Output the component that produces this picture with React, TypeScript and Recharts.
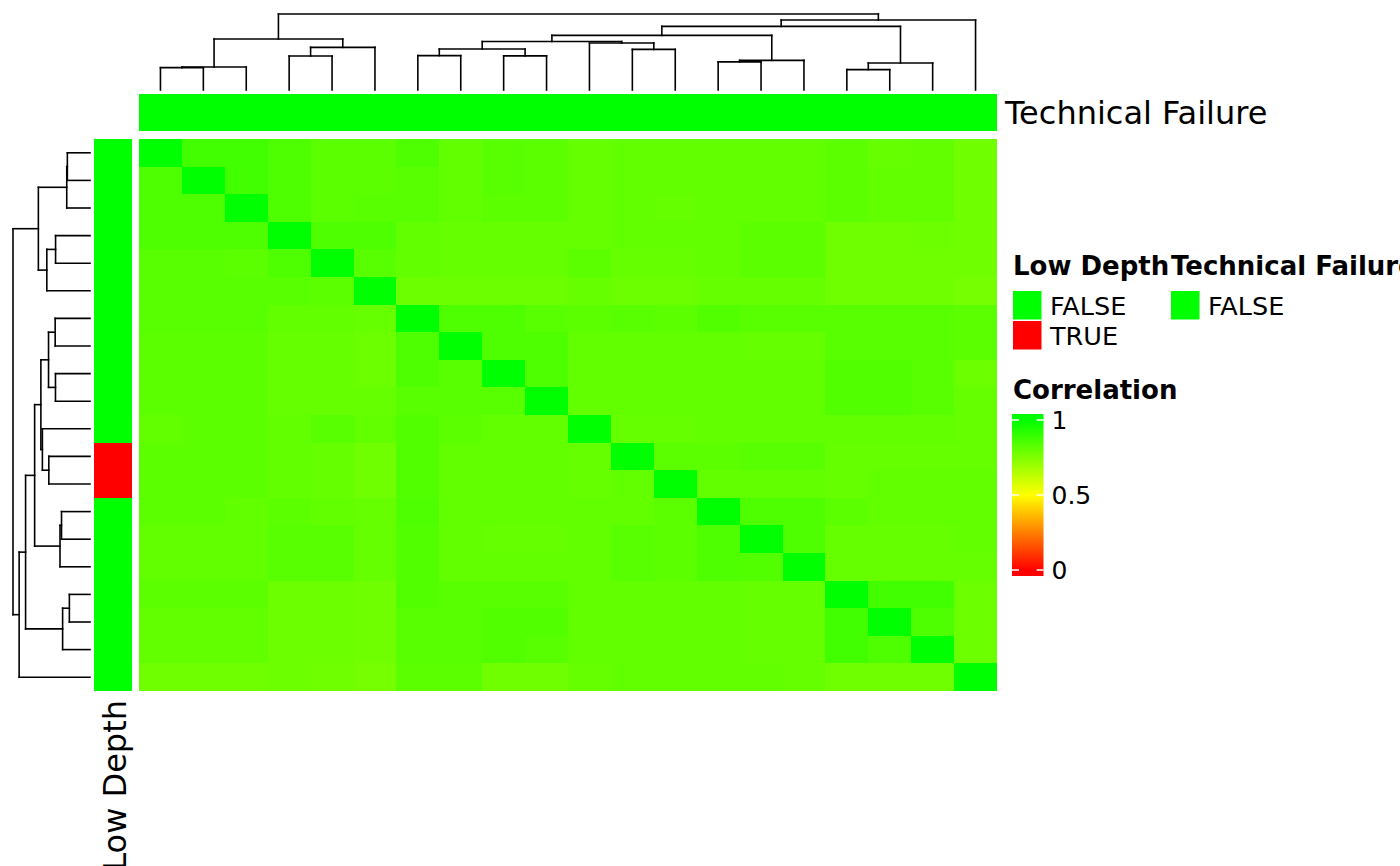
import React from "react";
import { ComposedChart, XAxis, YAxis, ReferenceArea, ReferenceLine } from "recharts";

const FONT = '"DejaVu Sans", "DejaVu Sans Condensed", sans-serif';

// correlation matrix rows (display order, rows == columns)
const corrRow00 = [1, 0.87, 0.87, 0.85, 0.82, 0.82, 0.85, 0.81, 0.83, 0.82, 0.8, 0.81, 0.81, 0.81, 0.81, 0.81, 0.82, 0.8, 0.81, 0.78];
const corrRow01 = [0.85, 1, 0.87, 0.85, 0.82, 0.82, 0.83, 0.81, 0.83, 0.82, 0.8, 0.81, 0.81, 0.81, 0.81, 0.81, 0.82, 0.81, 0.81, 0.78];
const corrRow02 = [0.85, 0.85, 1, 0.85, 0.82, 0.83, 0.83, 0.81, 0.82, 0.82, 0.8, 0.81, 0.8, 0.81, 0.81, 0.81, 0.82, 0.81, 0.81, 0.78];
const corrRow03 = [0.85, 0.85, 0.85, 1, 0.85, 0.85, 0.81, 0.8, 0.8, 0.8, 0.8, 0.81, 0.81, 0.81, 0.82, 0.82, 0.78, 0.78, 0.79, 0.78];
const corrRow04 = [0.83, 0.83, 0.82, 0.85, 1, 0.83, 0.81, 0.8, 0.8, 0.8, 0.82, 0.8, 0.8, 0.81, 0.82, 0.82, 0.78, 0.78, 0.78, 0.78];
const corrRow05 = [0.83, 0.83, 0.83, 0.83, 0.82, 1, 0.79, 0.79, 0.79, 0.79, 0.8, 0.79, 0.79, 0.8, 0.8, 0.8, 0.78, 0.78, 0.78, 0.77];
const corrRow06 = [0.83, 0.83, 0.83, 0.81, 0.81, 0.8, 1, 0.85, 0.85, 0.83, 0.82, 0.83, 0.82, 0.84, 0.83, 0.83, 0.83, 0.83, 0.83, 0.82];
const corrRow07 = [0.82, 0.82, 0.82, 0.8, 0.8, 0.79, 0.85, 1, 0.85, 0.85, 0.81, 0.81, 0.81, 0.81, 0.8, 0.8, 0.83, 0.83, 0.83, 0.82];
const corrRow08 = [0.82, 0.82, 0.82, 0.8, 0.8, 0.79, 0.85, 0.83, 1, 0.85, 0.81, 0.81, 0.81, 0.81, 0.81, 0.81, 0.84, 0.84, 0.83, 0.79];
const corrRow09 = [0.82, 0.82, 0.82, 0.8, 0.8, 0.8, 0.83, 0.83, 0.83, 1, 0.81, 0.81, 0.81, 0.81, 0.81, 0.81, 0.84, 0.84, 0.83, 0.8];
const corrRow10 = [0.81, 0.82, 0.82, 0.81, 0.83, 0.81, 0.84, 0.82, 0.81, 0.81, 1, 0.8, 0.8, 0.81, 0.81, 0.81, 0.81, 0.81, 0.81, 0.8];
const corrRow11 = [0.82, 0.82, 0.82, 0.81, 0.8, 0.78, 0.84, 0.81, 0.81, 0.81, 0.8, 1, 0.82, 0.82, 0.83, 0.83, 0.8, 0.8, 0.8, 0.8];
const corrRow12 = [0.82, 0.82, 0.82, 0.81, 0.8, 0.78, 0.84, 0.81, 0.81, 0.81, 0.8, 0.81, 1, 0.81, 0.81, 0.81, 0.8, 0.81, 0.81, 0.81];
const corrRow13 = [0.82, 0.82, 0.81, 0.82, 0.81, 0.8, 0.85, 0.81, 0.81, 0.81, 0.81, 0.81, 0.82, 1, 0.85, 0.85, 0.82, 0.81, 0.81, 0.81];
const corrRow14 = [0.81, 0.81, 0.81, 0.83, 0.83, 0.8, 0.84, 0.81, 0.8, 0.8, 0.81, 0.83, 0.82, 0.85, 1, 0.85, 0.8, 0.8, 0.8, 0.81];
const corrRow15 = [0.81, 0.81, 0.81, 0.83, 0.83, 0.8, 0.84, 0.81, 0.81, 0.81, 0.81, 0.83, 0.82, 0.85, 0.84, 1, 0.8, 0.8, 0.8, 0.8];
const corrRow16 = [0.82, 0.82, 0.82, 0.79, 0.79, 0.78, 0.84, 0.83, 0.83, 0.83, 0.81, 0.81, 0.81, 0.81, 0.8, 0.8, 1, 0.87, 0.87, 0.79];
const corrRow17 = [0.81, 0.81, 0.81, 0.79, 0.79, 0.78, 0.83, 0.83, 0.84, 0.84, 0.81, 0.81, 0.81, 0.81, 0.8, 0.8, 0.87, 1, 0.85, 0.79];
const corrRow18 = [0.81, 0.81, 0.81, 0.79, 0.79, 0.78, 0.83, 0.83, 0.84, 0.83, 0.81, 0.81, 0.81, 0.81, 0.8, 0.8, 0.87, 0.85, 1, 0.79];
const corrRow19 = [0.78, 0.78, 0.78, 0.79, 0.78, 0.77, 0.82, 0.82, 0.78, 0.78, 0.8, 0.81, 0.81, 0.81, 0.81, 0.8, 0.78, 0.78, 0.78, 1];

const corrMatrix = [
  corrRow00, corrRow01, corrRow02, corrRow03, corrRow04, corrRow05, corrRow06, corrRow07, corrRow08, corrRow09,
  corrRow10, corrRow11, corrRow12, corrRow13, corrRow14, corrRow15, corrRow16, corrRow17, corrRow18, corrRow19,
];

// annotations
const lowDepth = [
  "FALSE", "FALSE", "FALSE", "FALSE", "FALSE", "FALSE", "FALSE", "FALSE", "FALSE", "FALSE",
  "FALSE", "TRUE", "TRUE", "FALSE", "FALSE", "FALSE", "FALSE", "FALSE", "FALSE", "FALSE",
];
const technicalFailure = [
  "FALSE", "FALSE", "FALSE", "FALSE", "FALSE", "FALSE", "FALSE", "FALSE", "FALSE", "FALSE",
  "FALSE", "FALSE", "FALSE", "FALSE", "FALSE", "FALSE", "FALSE", "FALSE", "FALSE", "FALSE",
];
const lowDepthLevels = ["FALSE", "TRUE"];
const technicalFailureLevels = ["FALSE"];
const annotationColors: Record<string, string> = { FALSE: "#00FF00", TRUE: "#FF0000" };

// hierarchical clustering merges: [left, right, height]; "L#" = leaf (display index), "M#" = earlier merge
const dendroMerges: [string, string, number][] = [
  ["L0", "L1", 22.5],
  ["M0", "L2", 23.1],
  ["L3", "L4", 34.2],
  ["M2", "L5", 42.9],
  ["M1", "M3", 51.3],
  ["L6", "L7", 34.6],
  ["L8", "L9", 34.3],
  ["M5", "M6", 41.2],
  ["L11", "L12", 40.9],
  ["L10", "M8", 47.3],
  ["M7", "M9", 48.8],
  ["L13", "L14", 28.3],
  ["M11", "L15", 29.8],
  ["M10", "M12", 55.0],
  ["L16", "L17", 20.5],
  ["M14", "L18", 27.2],
  ["M13", "M15", 64.0],
  ["M16", "L19", 70.4],
  ["M4", "M17", 76.5],
];
const dendroMax = 76.5;

const legendTicks = [0, 0.5, 1];
const legendDomain = [-0.04, 1.04];
const legendTickMarks = [0, 0.5, 1];

const N = corrMatrix.length;

function corrColor(v: number) {
  let r: number, g: number;
  if (v >= 0.5) {
    r = Math.round(255 * 2 * (1 - v));
    g = 255;
  } else {
    r = 255;
    g = Math.round(255 * 2 * v);
  }
  const h = (n: number) => Math.max(0, Math.min(255, n)).toString(16).padStart(2, "0");
  return `#${h(r)}${h(g)}00`;
}

type Seg = { p1: number; h1: number; p2: number; h2: number };
function dendroSegments(merges: [string, string, number][]): Seg[] {
  const nodes: { pos: number; h: number }[] = [];
  const get = (ref: string) =>
    ref[0] === "L" ? { pos: Number(ref.slice(1)) + 0.5, h: 0 } : nodes[Number(ref.slice(1))];
  const segs: Seg[] = [];
  merges.forEach(([a, b, h]) => {
    const A = get(a);
    const B = get(b);
    segs.push({ p1: A.pos, h1: A.h, p2: A.pos, h2: h });
    segs.push({ p1: A.pos, h1: h, p2: B.pos, h2: h });
    segs.push({ p1: B.pos, h1: B.h, p2: B.pos, h2: h });
    nodes.push({ pos: (A.pos + B.pos) / 2, h });
  });
  return segs;
}

const segs = dendroSegments(dendroMerges);

const cellShape = (color: string) => (p: any) =>
  <rect x={p.x} y={p.y} width={p.width} height={p.height} fill={color} shapeRendering="crispEdges" />;

const abs = (left: number, top: number): React.CSSProperties => ({ position: "absolute", left, top });

export default function App() {
  return (
    <div style={{ position: "absolute", left: 0, top: 0, width: 1400, height: 866, background: "#fff", overflow: "hidden", fontFamily: FONT }}>
      <svg width={0} height={0} style={{ position: "absolute" }}>
        <defs>
          <linearGradient id="corrGrad" x1="0" y1="1" x2="0" y2="0">
            <stop offset="0" stopColor="#FF0000" />
            <stop offset={0.04 / 1.08} stopColor="#FF0000" />
            <stop offset="0.5" stopColor="#FFFF00" />
            <stop offset={1 - 0.04 / 1.08} stopColor="#00FF00" />
            <stop offset="1" stopColor="#00FF00" />
          </linearGradient>
        </defs>
      </svg>

      {/* column dendrogram */}
      <div style={abs(139, 0)}>
        <ComposedChart width={858} height={95} margin={{ top: 14, bottom: 5, left: 0, right: 0 }}>
          <XAxis type="number" dataKey="x" domain={[0, N]} hide allowDataOverflow />
          <YAxis type="number" domain={[0, dendroMax]} hide allowDataOverflow />
          {segs.map((s, i) => (
            <ReferenceLine key={i} segment={[{ x: s.p1, y: s.h1 }, { x: s.p2, y: s.h2 }]} stroke="#000" strokeWidth={1.6} strokeLinecap="square" ifOverflow="visible" />
          ))}
        </ComposedChart>
      </div>

      {/* row dendrogram */}
      <div style={abs(0, 130)}>
        <ComposedChart width={95} height={570} margin={{ top: 9, bottom: 9, left: 13, right: 5 }}>
          <XAxis type="number" dataKey="x" domain={[0, dendroMax]} reversed hide allowDataOverflow />
          <YAxis type="number" domain={[0, N]} reversed hide allowDataOverflow />
          {segs.map((s, i) => (
            <ReferenceLine key={i} segment={[{ x: s.h1, y: s.p1 }, { x: s.h2, y: s.p2 }]} stroke="#000" strokeWidth={1.6} strokeLinecap="square" ifOverflow="visible" />
          ))}
        </ComposedChart>
      </div>

      {/* column annotation: Technical Failure */}
      <div style={abs(139, 94)}>
        <ComposedChart width={858} height={37} margin={{ top: 0, bottom: 0, left: 0, right: 0 }}>
          <XAxis type="number" dataKey="x" domain={[0, N]} hide allowDataOverflow />
          <YAxis type="number" domain={[0, 1]} hide allowDataOverflow />
          {technicalFailure.map((v, c) => (
            <ReferenceArea key={c} x1={c} x2={c + 1} y1={0} y2={1} shape={cellShape(annotationColors[v])} ifOverflow="visible" />
          ))}
        </ComposedChart>
      </div>

      {/* row annotation: Low Depth */}
      <div style={abs(94, 139)}>
        <ComposedChart width={38} height={552} margin={{ top: 0, bottom: 0, left: 0, right: 0 }}>
          <XAxis type="number" dataKey="x" domain={[0, 1]} hide allowDataOverflow />
          <YAxis type="number" domain={[0, N]} reversed hide allowDataOverflow />
          {lowDepth.map((v, r) => (
            <ReferenceArea key={r} x1={0} x2={1} y1={r} y2={r + 1} shape={cellShape(annotationColors[v])} ifOverflow="visible" />
          ))}
        </ComposedChart>
      </div>

      {/* heatmap */}
      <div style={abs(139, 139)}>
        <ComposedChart width={858} height={552} margin={{ top: 0, bottom: 0, left: 0, right: 0 }}>
          <XAxis type="number" dataKey="x" domain={[0, N]} hide allowDataOverflow />
          <YAxis type="number" domain={[0, N]} reversed hide allowDataOverflow />
          {corrMatrix.flatMap((row, r) =>
            row.map((v, c) => (
              <ReferenceArea key={`${r}-${c}`} x1={c} x2={c + 1} y1={r} y2={r + 1} shape={cellShape(corrColor(v))} ifOverflow="visible" />
            ))
          )}
        </ComposedChart>
      </div>

      {/* correlation colour bar */}
      <div style={abs(1000, 400)}>
        <ComposedChart width={100} height={190} margin={{ top: 14, bottom: 14, left: 12, right: 0 }}>
          <XAxis type="number" dataKey="x" domain={[0, 1]} hide allowDataOverflow />
          <YAxis
            type="number"
            orientation="right"
            width={56.5}
            domain={legendDomain}
            ticks={legendTicks}
            tickFormatter={(v: number) => String(v)}
            axisLine={false}
            tickLine={false}
            allowDataOverflow
            interval={0}
            tick={{ fill: "#000", fontSize: 25, fontFamily: FONT }}
          />
          <ReferenceArea x1={0} x2={1} y1={legendDomain[0]} y2={legendDomain[1]} fill="url(#corrGrad)" fillOpacity={1} stroke="none" ifOverflow="visible" />
          {legendTickMarks.map((t) => (
            <ReferenceLine key={`a${t}`} segment={[{ x: 0, y: t }, { x: 0.22, y: t }]} stroke="#fff" strokeWidth={1.5} ifOverflow="visible" />
          ))}
          {legendTickMarks.map((t) => (
            <ReferenceLine key={`b${t}`} segment={[{ x: 0.78, y: t }, { x: 1, y: t }]} stroke="#fff" strokeWidth={1.5} ifOverflow="visible" />
          ))}
        </ComposedChart>
      </div>

      {/* texts and categorical legends */}
      <svg width={1400} height={866} style={{ position: "absolute", left: 0, top: 0, pointerEvents: "none" }}>
        <text x={1005} y={124} fontSize={32} fontFamily={FONT} fill="#000">Technical Failure</text>
        <text transform="translate(126,700) rotate(-90)" textAnchor="end" fontSize={32} fontFamily={FONT} fill="#000">Low Depth</text>

        <text x={1013} y={275} fontSize={26} fontWeight="bold" fontFamily={FONT} fill="#000">Low Depth</text>
        {lowDepthLevels.map((lv, i) => (
          <g key={lv}>
            <rect x={1013} y={291 + i * 30} width={28.5} height={28.5} fill={annotationColors[lv]} />
            <text x={1050} y={315 + i * 30} fontSize={25.5} fontFamily={FONT} fill="#000">{lv}</text>
          </g>
        ))}

        <text x={1171} y={275} fontSize={26} fontWeight="bold" fontFamily={FONT} fill="#000">Technical Failure</text>
        {technicalFailureLevels.map((lv, i) => (
          <g key={lv}>
            <rect x={1171} y={291 + i * 30} width={28.5} height={28.5} fill={annotationColors[lv]} />
            <text x={1208} y={315 + i * 30} fontSize={25.5} fontFamily={FONT} fill="#000">{lv}</text>
          </g>
        ))}

        <text x={1013} y={399} fontSize={26} fontWeight="bold" fontFamily={FONT} fill="#000">Correlation</text>
      </svg>
    </div>
  );
}
